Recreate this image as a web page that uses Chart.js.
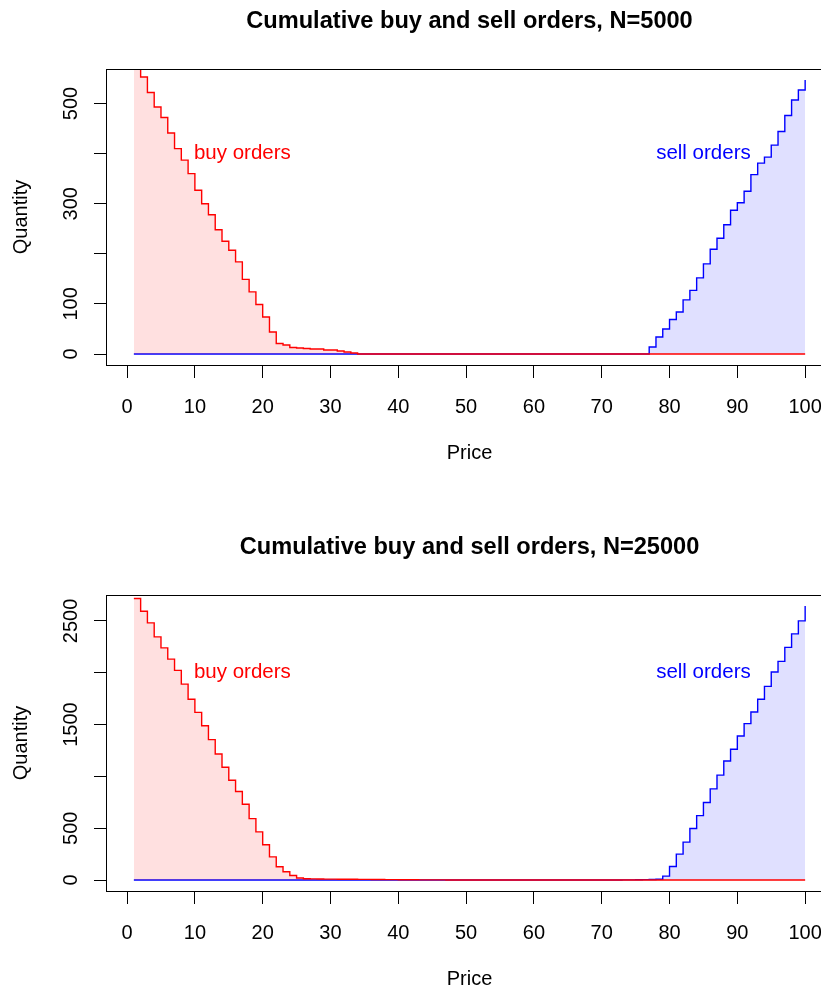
<!DOCTYPE html>
<html><head><meta charset="utf-8">
<script src="https://cdn.jsdelivr.net/npm/chart.js@4/dist/chart.umd.min.js"></script>
<style>
html,body{margin:0;padding:0;background:#fff;overflow:hidden;width:821px;height:989px;position:relative;}
.panel{position:absolute;left:0;width:939px;height:494px;}
#p1{top:0}
#p2{top:526px}
</style></head><body>
<div class="panel" id="p1"><canvas id="c1" width="939" height="494"></canvas></div>
<div class="panel" id="p2"><canvas id="c2" width="939" height="494"></canvas></div>
<script>
const FONT = '"Liberation Sans", Arial, Helvetica, sans-serif';

const prices = [
  1,2,3,4,5,6,7,8,9,10,
  11,12,13,14,15,16,17,18,19,20,
  21,22,23,24,25,26,27,28,29,30,
  31,32,33,34,35,36,37,38,39,40,
  41,42,43,44,45,46,47,48,49,50,
  51,52,53,54,55,56,57,58,59,60,
  61,62,63,64,65,66,67,68,69,70,
  71,72,73,74,75,76,77,78,79,80,
  81,82,83,84,85,86,87,88,89,90,
  91,92,93,94,95,96,97,98,99,100];

// N=5000
const buyTop = [
  585,553,522,493,472,441,410,387,360,327,
  300,278,248,225,207,184,149,124,99,74,
  44,21,18,13,12,11,10,10,8,8,
  6,4,2,0,0,0,0,0,0,0,
  0,0,0,0,0,0,0,0,0,0,
  0,0,0,0,0,0,0,0,0,0,
  0,0,0,0,0,0,0,0,0,0,
  0,0,0,0,0,0,0,0,0,0,
  0,0,0,0,0,0,0,0,0,0,
  0,0,0,0,0,0,0,0,0,0];
const sellTop = [
  0,0,0,0,0,0,0,0,0,0,
  0,0,0,0,0,0,0,0,0,0,
  0,0,0,0,0,0,0,0,0,0,
  0,0,0,0,0,0,0,0,0,0,
  0,0,0,0,0,0,0,0,0,0,
  0,0,0,0,0,0,0,0,0,0,
  0,0,0,0,0,0,0,0,0,0,
  0,0,0,0,0,0,14,34,50,69,
  84,108,127,152,180,209,231,258,287,302,
  325,358,381,393,417,444,476,507,527,547];

// N=25000
const buyBottom = [
  2717,2594,2482,2347,2241,2132,2023,1891,1744,1618,
  1489,1355,1217,1089,963,854,732,593,465,340,
  224,128,80,44,19,12,11,10,9,9,
  8,7,7,6,6,5,5,4,4,3,
  3,3,2,2,2,2,1,1,1,1,
  1,1,1,1,1,0,0,0,0,0,
  0,0,0,0,0,0,0,0,0,0,
  0,0,0,0,0,0,0,0,0,0,
  0,0,0,0,0,0,0,0,0,0,
  0,0,0,0,0,0,0,0,0,0];
const sellBottom = [
  0,0,0,0,0,0,0,0,0,0,
  0,0,0,0,0,0,0,0,0,0,
  0,0,0,0,0,0,0,0,0,0,
  0,0,0,0,0,0,0,0,0,0,
  0,0,0,0,0,0,0,0,0,0,
  0,0,0,0,0,0,0,0,0,0,
  0,0,0,0,0,0,0,0,0,1,
  1,1,2,2,3,4,5,7,38,131,
  250,366,497,622,748,880,1012,1149,1262,1390,
  1509,1621,1744,1869,2007,2110,2245,2376,2501,2645];

const xTicks = [0,10,20,30,40,50,60,70,80,90,100];
const yTicksTop = [0,100,200,300,400,500];
const yLabelsTop = [0,100,300,500];
const yTicksBottom = [0,500,1000,1500,2000,2500];
const yLabelsBottom = [0,500,1500,2500];
const titleTop = 'Cumulative buy and sell orders, N=5000';
const titleBottom = 'Cumulative buy and sell orders, N=25000';
const buyText = 'buy orders', sellText = 'sell orders';
const textPriceBuy = 17, textPriceSell = 85;
const textQtyTop = 400, textQtyBottom = 2000;

const rStyle = {
  id: 'rstyle',
  afterDatasetsDraw(chart, args, opts) {
    const {ctx, chartArea: a, scales: {x, y}} = chart;
    ctx.save();
    // annotations
    ctx.font = '20.5px ' + FONT;
    ctx.textAlign = 'center';
    ctx.textBaseline = 'middle';
    for (const t of opts.texts) {
      ctx.fillStyle = t.color;
      ctx.fillText(t.text, x.getPixelForValue(t.x), y.getPixelForValue(t.y));
    }
    // box
    ctx.strokeStyle = '#000';
    ctx.lineWidth = 1;
    ctx.strokeRect(Math.round(a.left) - 0.5, Math.round(a.top) + 0.5,
                   Math.round(a.right - a.left), Math.round(a.bottom - a.top));
    // rotated y tick labels (R style)
    ctx.font = '20px ' + FONT;
    ctx.fillStyle = '#000';
    ctx.textBaseline = 'alphabetic';
    for (const v of opts.yLabels) {
      ctx.save();
      ctx.translate(a.left - 30, y.getPixelForValue(v));
      ctx.rotate(-Math.PI / 2);
      ctx.fillText(String(v), 0, 0);
      ctx.restore();
    }
    ctx.restore();
  }
};

function makeChart(id, title, buy, sell, yTicks, yLabels, textQty) {
  const xmin = Math.min(...prices), xmax = Math.max(...prices);
  const xr = xmax - xmin;
  const ymax = Math.max(...sell);
  new Chart(document.getElementById(id), {
    type: 'line',
    data: {
      datasets: [
        {
          data: prices.map((p, i) => ({x: p, y: buy[i]})),
          borderColor: '#ff0000', backgroundColor: 'rgba(255,0,0,0.12)',
          borderWidth: 1.4, pointRadius: 0, stepped: 'before', fill: 'origin', tension: 0
        },
        {
          data: prices.map((p, i) => ({x: p, y: sell[i]})),
          borderColor: '#0000ff', backgroundColor: 'rgba(0,0,255,0.12)',
          borderWidth: 1.4, pointRadius: 0, stepped: 'before', fill: 'origin', tension: 0
        }
      ]
    },
    options: {
      responsive: false, animation: false, devicePixelRatio: 1,
      layout: {padding: {left: 0, right: 107, top: 0, bottom: 0}},
      plugins: {
        legend: {display: false}, tooltip: {enabled: false},
        title: {display: true, text: title, color: '#000', fullSize: false,
                font: {size: 23.6, weight: 'bold', family: FONT, lineHeight: 1.2},
                padding: {top: 7.5, bottom: 33.18}},
        rstyle: {
          yLabels: yLabels,
          texts: [
            {text: buyText, x: textPriceBuy, y: textQty, color: '#ff0000'},
            {text: sellText, x: textPriceSell, y: textQty, color: '#0000ff'}
          ]
        }
      },
      scales: {
        x: {
          type: 'linear', min: xmin - 0.04 * xr, max: xmax + 0.04 * xr,
          afterBuildTicks: s => { s.ticks = xTicks.map(v => ({value: v})); },
          afterFit: s => { s.height = 129; },
          grid: {display: true, drawOnChartArea: false, drawTicks: true, tickLength: 13, color: '#000', lineWidth: 1},
          border: {display: false},
          ticks: {color: '#000', font: {size: 20, family: FONT}, padding: 17, maxRotation: 0, minRotation: 0, autoSkip: false,
                  callback: v => String(v)},
          title: {display: true, text: 'Price', color: '#000', font: {size: 20, family: FONT, lineHeight: 1.2},
                  padding: {top: 0, bottom: 29}}
        },
        y: {
          type: 'linear', min: -0.04 * ymax, max: 1.04 * ymax,
          afterBuildTicks: s => { s.ticks = yTicks.map(v => ({value: v})); },
          afterFit: s => { s.width = 107; },
          grid: {display: true, drawOnChartArea: false, drawTicks: true, tickLength: 13, color: '#000', lineWidth: 1},
          border: {display: false},
          ticks: {display: false},
          title: {display: true, text: 'Quantity', color: '#000', font: {size: 20, family: FONT, lineHeight: 1.2},
                  padding: {top: 9, bottom: 0}}
        }
      }
    },
    plugins: [rStyle]
  });
}

makeChart('c1', titleTop, buyTop, sellTop, yTicksTop, yLabelsTop, textQtyTop);
makeChart('c2', titleBottom, buyBottom, sellBottom, yTicksBottom, yLabelsBottom, textQtyBottom);
</script>
</body></html>
